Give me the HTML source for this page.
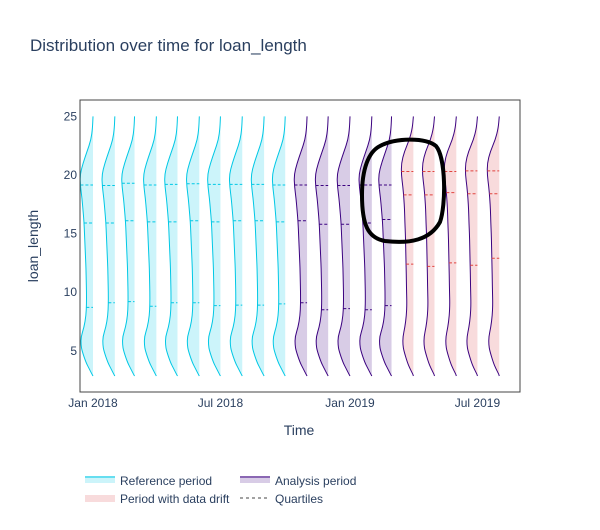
<!DOCTYPE html>
<html><head><meta charset="utf-8"><style>
body{margin:0;background:#fff;font-family:"Liberation Sans",Arial,sans-serif}
svg text{font-family:"Liberation Sans",Arial,sans-serif;fill:#2a3f5f}
</style></head><body>
<svg id="chart" width="600" height="525" xmlns="http://www.w3.org/2000/svg">
<text x="30" y="51" font-size="17">Distribution over time for loan_length</text>
<g id="yticks"></g>
<g id="xticks"></g>
<g id="violins"></g>
<rect x="80" y="100" width="440" height="292" fill="none" stroke="#444" stroke-width="1"/>
<text x="299" y="435" font-size="14" text-anchor="middle">Time</text>
<text transform="translate(38,246) rotate(-90)" font-size="14" text-anchor="middle">loan_length</text>
<path d="M380,146 C395,138 425,137 436,146 C446,158 446,205 440,222 C430,240 410,244 385,241 C368,238 362,225 362,195 C362,170 368,152 380,146 Z" fill="none" stroke="#000" stroke-width="4"/>
<g>
<g><rect x="85" y="476" width="30" height="7" fill="rgba(0,200,229,0.2)"/><line x1="85" y1="477" x2="115" y2="477" stroke="#00c8e5" stroke-width="1"/><text x="120" y="485" font-size="12">Reference period</text></g>
<g><rect x="240" y="476" width="30" height="7" fill="rgba(59,2,128,0.2)"/><line x1="240" y1="477" x2="270" y2="477" stroke="#3b0280" stroke-width="1"/><text x="275" y="485" font-size="12">Analysis period</text></g>
<g><rect x="85" y="495" width="30" height="7" fill="rgba(221,76,79,0.2)"/><text x="120" y="503" font-size="12">Period with data drift</text></g>
<g><line x1="240" y1="498" x2="270" y2="498" stroke="#444" stroke-width="1" stroke-dasharray="3,3"/><text x="275" y="503" font-size="12">Quartiles</text></g>
</g>
</svg>
<script>
const NS="http://www.w3.org/2000/svg";
const months=["2018-01","2018-02","2018-03","2018-04","2018-05","2018-06","2018-07","2018-08","2018-09","2018-10","2018-11","2018-12","2019-01","2019-02","2019-03","2019-04","2019-05","2019-06","2019-07","2019-08"];
const periods=["ref","ref","ref","ref","ref","ref","ref","ref","ref","ref","ana","ana","ana","ana","ana","drift","drift","drift","drift","drift"];
const q1=[8.7,9.1,9.2,8.8,9.1,9.1,8.85,8.9,8.9,9.0,9.1,8.5,8.6,8.5,8.85,12.4,12.2,12.5,12.3,12.9];
const median=[15.9,15.9,16.1,16.0,16.0,16.1,16.0,16.1,16.1,16.0,16.1,15.8,15.8,15.9,16.2,18.3,18.3,18.5,18.4,18.4];
const q3=[19.15,19.1,19.3,19.15,19.2,19.25,19.2,19.2,19.2,19.15,19.15,19.1,19.1,19.15,19.15,20.3,20.3,20.3,20.35,20.35];
const densVals=[25,24,23,22,21,20,19,18,17,16,15,14,13,12,11,10,9,8,7,6.2,5.5,5,4,3.5,3,2.85];
const densNormal=[0,0.5,2,6,10,13,12.5,11,10,9,8.5,8,7.5,7,6.8,6.5,6.5,7,9,12,12,11,7,4,1,0];
const densDrift=[0,1,4,9,12,12,10.5,9.5,8.8,8.5,8,7.7,7.5,7.2,7,6.8,6.5,7,8.5,10.5,10.5,9.5,6,3.5,0.5,0];
const yTicks=[5,10,15,20,25];
const xTickLabels=["Jan 2018","Jul 2018","Jan 2019","Jul 2019"];
const xTickDates=["2018-01-01","2018-07-01","2019-01-01","2019-07-01"];
const y=v=>175-(v-20)*11.72;
const t0=Date.parse("2018-01-01"),t1=Date.parse("2019-01-01");
const x=d=>93+(Date.parse(d)-t0)/(t1-t0)*257;
const yt=document.getElementById("yticks");
yTicks.forEach(v=>{const t=document.createElementNS(NS,"text");t.setAttribute("x",77);t.setAttribute("y",y(v)+4);t.setAttribute("font-size","12");t.setAttribute("text-anchor","end");t.textContent=v;


yt.appendChild(t);});
const xt=document.getElementById("xticks");
xTickLabels.forEach((l,i)=>{const t=document.createElementNS(NS,"text");t.setAttribute("x",x(xTickDates[i]));t.setAttribute("y",407);t.setAttribute("font-size","12");t.setAttribute("text-anchor","middle");t.textContent=l;


xt.appendChild(t);});
const col={ref:{line:"#00c8e5",fill:"rgba(0,200,229,0.2)",q:"#00c8e5"},ana:{line:"#3b0280",fill:"rgba(59,2,128,0.2)",q:"#3b0280"},drift:{line:"#3b0280",fill:"rgba(221,76,79,0.2)",q:"#e0443f"}};
const g=document.getElementById("violins");
function widthAt(dens,v){for(let i=0;i<densVals.length-1;i++){const a=densVals[i],b=densVals[i+1];if(v<=a&&v>=b){const f=(a-v)/(a-b);return dens[i]+(dens[i+1]-dens[i])*f;}}return 0;}
months.forEach((m,i)=>{
 const bx=x(m+"-01"),p=periods[i],c=col[p],dens=p==="drift"?densDrift:densNormal;
 let pts=densVals.map((v,k)=>[bx-dens[k],y(v)]);
 let d="M"+bx+","+y(densVals[0]);
 for(let k=1;k<pts.length;k++){const a=pts[k-1],b=pts[k];const my=(a[1]+b[1])/2;d+=` Q${a[0]},${a[1]} ${(a[0]+b[0])/2},${my}`;}
 d+=` L${bx},${y(densVals[densVals.length-1])}`;
 const fill=document.createElementNS(NS,"path");fill.setAttribute("d",d+" Z");fill.setAttribute("fill",c.fill);fill.setAttribute("stroke","none");
 
 
 g.appendChild(fill);
 const line=document.createElementNS(NS,"path");line.setAttribute("d",d);line.setAttribute("fill","none");line.setAttribute("stroke",c.line);line.setAttribute("stroke-width","1");
 
 
 g.appendChild(line);
 [q1[i],median[i],q3[i]].forEach(v=>{const w=widthAt(dens,v);const l=document.createElementNS(NS,"line");l.setAttribute("x1",bx-w);l.setAttribute("x2",bx);l.setAttribute("y1",y(v));l.setAttribute("y2",y(v));l.setAttribute("stroke",c.q);l.setAttribute("stroke-width","1");l.setAttribute("stroke-dasharray","3,2");
 
 
 g.appendChild(l);});
});
</script>
</body></html>
